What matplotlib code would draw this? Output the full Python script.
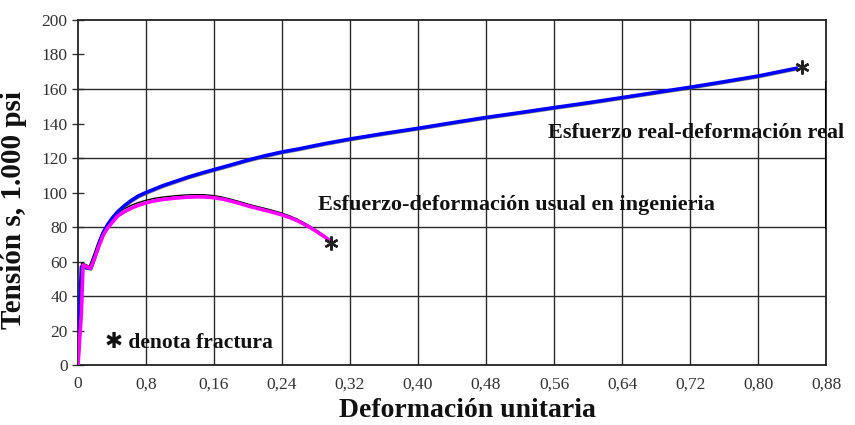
import matplotlib
matplotlib.use("Agg")
import matplotlib.pyplot as plt
import matplotlib.transforms as mtransforms

# Curva esfuerzo real - deformacion real (ksi)
real_strain = [0.0, 0.002, 0.004, 0.015, 0.020, 0.025, 0.030, 0.035, 0.040, 0.047,
               0.055, 0.063, 0.071, 0.080, 0.090, 0.100, 0.115, 0.130, 0.145, 0.158,
               0.18, 0.20, 0.22, 0.24, 0.26, 0.29, 0.32, 0.36, 0.40, 0.44,
               0.48, 0.52, 0.56, 0.60, 0.64, 0.68, 0.72, 0.76, 0.80, 0.845]
real_stress = [0.0, 30.0, 57.0, 56.0, 63.0, 70.5, 77.0, 81.5, 85.0, 89.0,
               92.5, 95.5, 98.0, 100.0, 102.0, 104.0, 106.5, 109.0, 111.2, 113.0,
               116.0, 118.8, 121.3, 123.5, 125.3, 128.3, 131.0, 134.2, 137.2, 140.4,
               143.5, 146.3, 149.2, 152.0, 155.0, 158.0, 161.0, 164.2, 167.5, 172.0]

# Curva esfuerzo - deformacion de ingenieria (ksi)
eng_strain = [0.0, 0.004, 0.006, 0.015, 0.020, 0.025, 0.030, 0.035, 0.040, 0.047,
              0.055, 0.063, 0.071, 0.080, 0.090, 0.100, 0.115, 0.128, 0.141, 0.150,
              0.160, 0.170, 0.180, 0.192, 0.203, 0.215, 0.228, 0.240, 0.250, 0.260,
              0.272, 0.280, 0.288, 0.295]
eng_stress = [0.0, 30.0, 58.0, 56.0, 62.5, 69.5, 75.5, 79.5, 82.5, 86.5,
              89.0, 91.0, 92.6, 94.0, 95.2, 96.0, 96.8, 97.3, 97.5, 97.4,
              97.0, 96.2, 95.0, 93.4, 91.8, 90.3, 88.7, 87.0, 85.3, 83.2,
              80.0, 77.6, 75.0, 72.6]

# Puntos de fractura
fracture_strain = [0.298, 0.852]
fracture_stress = [70.5, 172.5]

x_ticks = [0, 0.08, 0.16, 0.24, 0.32, 0.40, 0.48, 0.56, 0.64, 0.72, 0.80, 0.88]
x_labels = ["0", "0,8", "0,16", "0,24", "0,32", "0,40", "0,48", "0,56", "0,64",
            "0,72", "0,80", "0,88"]
y_ticks = list(range(0, 201, 20))
y_grid = [40, 80, 120, 160]

serif = ["Liberation Serif", "DejaVu Serif", "DejaVu Sans"]
plt.rcParams["font.family"] = serif

fig = plt.figure(figsize=(8.55, 4.25), dpi=100)
ax = fig.add_axes([0.0912, 0.141, 0.875, 0.812])

ax.set_xlim(0, 0.88)
ax.set_ylim(0, 200)

# cuadricula
for xv in x_ticks[1:-1]:
    ax.axvline(xv, color="#2b2b2b", lw=1.0, zorder=1)
for yv in y_grid:
    ax.axhline(yv, color="#2b2b2b", lw=1.0, zorder=1)

# trazo negro original ligeramente desplazado bajo la curva de ingenieria
shift = mtransforms.ScaledTranslation(-1.0 / 72, 1.6 / 72, fig.dpi_scale_trans)
ax.plot(eng_strain, eng_stress, color="black", lw=1.0,
        transform=ax.transData + shift, zorder=2)
shift2 = mtransforms.ScaledTranslation(0.6 / 72, -1.2 / 72, fig.dpi_scale_trans)
ax.plot(real_strain, real_stress, color="#555555", lw=1.0, alpha=0.7,
        transform=ax.transData + shift2, zorder=2)

ax.plot(real_strain, real_stress, color="#0000ff", lw=2.6, zorder=3,
        solid_joinstyle="round")
ax.plot(eng_strain, eng_stress, color="#ff00ff", lw=2.6, zorder=4,
        solid_joinstyle="round")

ax.plot(fracture_strain, fracture_stress, linestyle="none", marker=(6, 2, 0),
        markersize=10, color="#222222", mew=1.7, zorder=5)

# borde derecho mas grueso
ax.axvline(0.88, ymin=0.4, ymax=0.82, color="black", lw=2.2, zorder=6)

ax.set_xticks(x_ticks)
ax.set_xticklabels(x_labels)
ax.set_yticks(y_ticks)
ax.tick_params(axis="both", labelsize=12.5, labelcolor="#333333", color="#333333")
ax.tick_params(axis="y", direction="inout", length=9, width=1.0, pad=3)
ax.tick_params(axis="x", direction="out", length=0, pad=8)

for sp in ax.spines.values():
    sp.set_color("#222222")
    sp.set_linewidth(1.3)

ax.text(0.553, 134.5, "Esfuerzo real-deformación real", ha="left", va="center",
        fontsize=16, fontweight="bold", color="#111111", clip_on=False)
ax.text(0.282, 93, "Esfuerzo-deformación usual en ingenieria", ha="left",
        va="center", fontsize=16, fontweight="bold", color="#111111")
ax.text(0.032, 13, "✱ denota fractura", ha="left", va="center",
        fontsize=15.5, fontweight="bold", color="#111111")

ax.set_xlabel("Deformación unitaria", fontsize=20, fontweight="bold",
              color="#111111")
ax.xaxis.set_label_coords(0.52, -0.095)
ax.set_ylabel("Tensión s, 1.000 psi", fontsize=21, fontweight="bold",
              color="#111111")
ax.yaxis.set_label_coords(-0.068, 0.45)

fig.savefig("out.png", dpi=100)
